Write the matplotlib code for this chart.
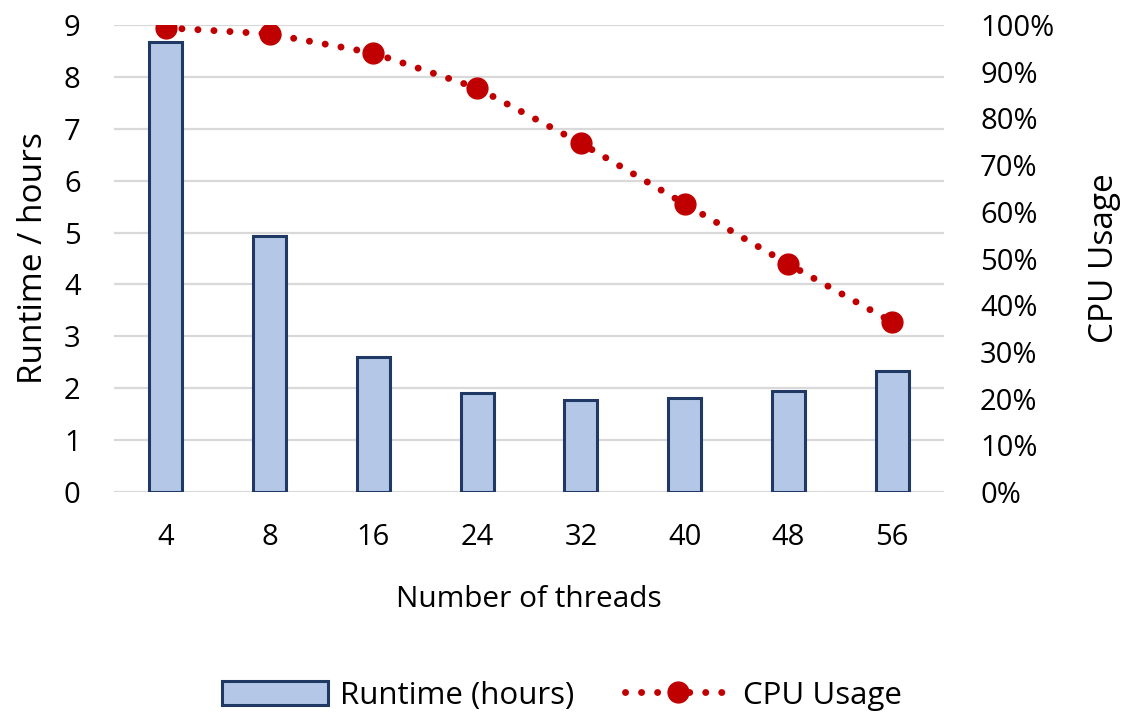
import numpy as np
import matplotlib
matplotlib.use('Agg')
import matplotlib.pyplot as plt
from matplotlib.ticker import PercentFormatter

threads = ['4', '8', '16', '24', '32', '40', '48', '56']
runtime_hours = [8.68, 4.93, 2.60, 1.91, 1.77, 1.81, 1.95, 2.33]
cpu_usage = [99.4, 98.1, 94.0, 86.5, 74.7, 61.7, 48.8, 36.4]

plt.rcParams['font.family'] = ['Open Sans', 'DejaVu Sans']
plt.rcParams['font.size'] = 21

bar_fill = '#B4C7E7'
bar_edge = '#203864'
line_red = '#C00000'

fig = plt.figure(figsize=(11.24, 7.21), dpi=100)
ax = fig.add_axes([114 / 1124, 1 - 492 / 721, 830 / 1124, 467 / 721])
ax2 = ax.twinx()

x = np.arange(len(threads))
bars = ax.bar(x, runtime_hours, width=0.32, color=bar_fill, edgecolor=bar_edge,
              linewidth=2.2, label='Runtime (hours)', zorder=3)

line, = ax2.plot(x, cpu_usage, color=line_red, linewidth=5, dashes=(0.01, 2.3),
                 dash_capstyle='round', marker='o', markersize=15,
                 markerfacecolor=line_red, markeredgecolor=line_red,
                 label='CPU Usage', zorder=4)

ax.set_xlim(-0.5, len(threads) - 0.5)
ax.set_ylim(0, 9)
ax.set_yticks(range(0, 10))
ax2.set_ylim(0, 100)
ax2.set_yticks(range(0, 101, 10))
ax2.yaxis.set_major_formatter(PercentFormatter(decimals=0))

ax.set_xticks(x)
ax.set_xticklabels(threads)

ax.grid(axis='y', color='#D9D9D9', linewidth=1.6, zorder=0)
ax.set_axisbelow(True)
for a in (ax, ax2):
    for s in a.spines.values():
        s.set_visible(False)
    a.tick_params(length=0)
ax.tick_params(axis='x', pad=22)
ax.tick_params(axis='y', pad=24)
ax2.tick_params(axis='y', pad=26)

ax.set_xlabel('Number of threads', fontsize=21.5, labelpad=24)
ax.set_ylabel('Runtime / hours', fontsize=24, labelpad=10)
ax2.set_ylabel('CPU Usage', fontsize=24, labelpad=24)

fig.legend(handles=[bars, line], loc='lower center', bbox_to_anchor=(0.5, -0.025),
           ncol=2, frameon=False, fontsize=22.5, handlelength=3.4, handleheight=0.8,
           columnspacing=1.6, handletextpad=0.4, numpoints=1)

fig.savefig('out.png', dpi=100)
